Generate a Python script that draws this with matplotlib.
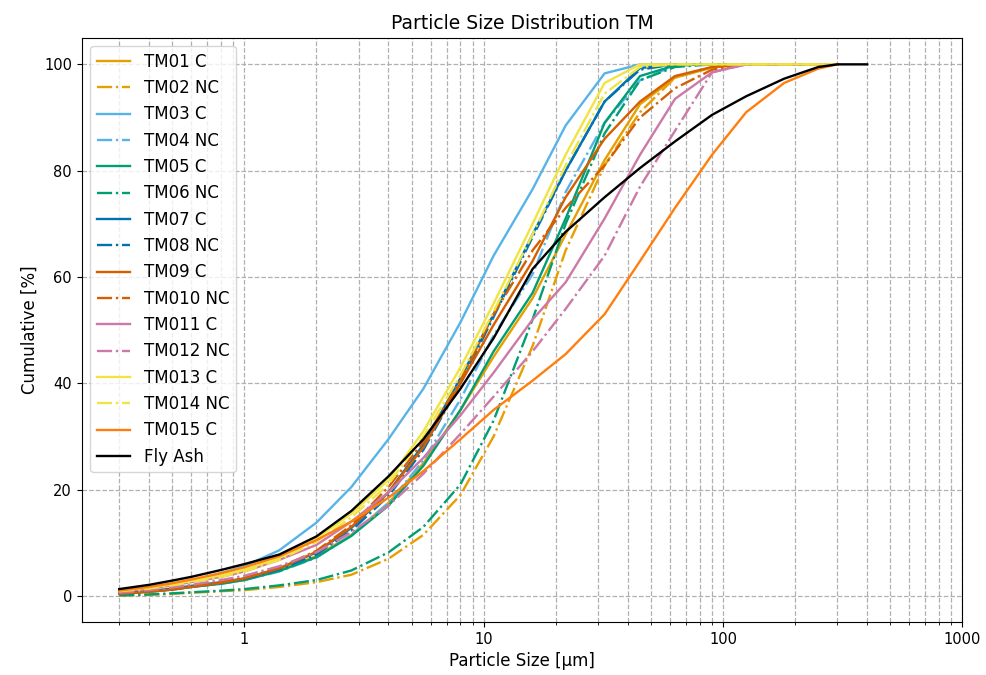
import matplotlib
matplotlib.use("Agg")
import matplotlib.pyplot as plt
from matplotlib.ticker import ScalarFormatter

sizes = [0.3, 0.4, 0.5, 0.6, 0.8, 1, 1.4, 2, 2.8, 4, 5.6, 8, 11, 16, 22, 32, 45, 63, 90, 125, 180, 250, 300]
fly_sizes = sizes + [400]

tm01 = [0.5, 0.9, 1.3, 1.7, 2.4, 3.0, 4.8, 7.5, 11.5, 17.5, 25, 35, 45, 56, 68, 82, 92.5, 97.5, 99.4, 100, 100, 100, 100]
tm02 = [0.1, 0.2, 0.4, 0.6, 0.9, 1.1, 1.7, 2.6, 4.0, 7.0, 11.5, 19, 30, 47, 65, 81, 91, 97.5, 99.5, 100, 100, 100, 100]
tm03 = [0.8, 1.5, 2.2, 2.9, 4.3, 5.6, 8.6, 13.8, 20.5, 29.5, 39, 51.5, 64, 76.5, 88.5, 98.3, 100, 100, 100, 100, 100, 100, 100]
tm04 = [0.4, 0.8, 1.2, 1.7, 2.3, 3.0, 4.6, 7.2, 11.5, 17.5, 25.5, 37, 49, 60.5, 76, 89, 97, 99.8, 100, 100, 100, 100, 100]
tm05 = [0.4, 0.8, 1.2, 1.7, 2.3, 3.0, 4.7, 7.3, 11.3, 17, 24.5, 35, 46, 57, 71, 89, 97.8, 99.8, 100, 100, 100, 100, 100]
tm06 = [0.1, 0.3, 0.5, 0.7, 1.0, 1.3, 2.0, 3.0, 4.8, 8.2, 13, 21, 33, 52, 70, 87, 97, 99.5, 100, 100, 100, 100, 100]
tm07 = [0.5, 0.9, 1.4, 1.9, 2.6, 3.3, 5.2, 8.2, 12.8, 19.5, 28.5, 41, 53, 68, 80, 93, 99.3, 100, 100, 100, 100, 100, 100]
tm08 = [0.5, 0.9, 1.3, 1.8, 2.5, 3.2, 5.0, 7.8, 12.3, 18.8, 27.5, 40, 52.5, 67.5, 80, 93, 99, 100, 100, 100, 100, 100, 100]
tm09 = [0.4, 0.8, 1.2, 1.7, 2.5, 3.3, 5.2, 8.3, 13, 19.5, 28, 40, 51, 63, 75, 86, 93, 97.8, 99.5, 100, 100, 100, 100]
tm010 = [0.5, 0.9, 1.3, 1.8, 2.6, 3.4, 5.3, 8.5, 13.3, 20.5, 29, 40.5, 53, 65, 73, 81, 90, 95.5, 99, 100, 100, 100, 100]
tm011 = [0.8, 1.4, 2.0, 2.6, 3.6, 4.6, 6.8, 9.6, 14, 19.5, 26, 34, 42, 52, 59, 71, 83, 93.5, 98.5, 100, 100, 100, 100]
tm012 = [0.6, 1.1, 1.6, 2.1, 3.0, 3.8, 5.6, 8.2, 12, 17, 23, 30.5, 37.5, 46, 54, 64, 77, 87.5, 98.5, 100, 100, 100, 100]
tm013 = [1.0, 1.6, 2.2, 2.8, 3.9, 4.9, 7.2, 10.8, 15.5, 21.8, 31, 43, 55, 70, 83, 96.5, 100, 100, 100, 100, 100, 100, 100]
tm014 = [0.9, 1.4, 2.0, 2.6, 3.6, 4.6, 6.8, 10.2, 14.8, 21, 30, 41.5, 53.5, 68, 81, 94.5, 99.5, 100, 100, 100, 100, 100, 100]
tm015 = [1.0, 1.7, 2.4, 3.1, 4.3, 5.4, 7.5, 10.5, 14, 18.5, 23.5, 29.5, 35, 40.5, 45.5, 53, 63, 73, 83, 91, 96.5, 99.2, 100]
fly_ash = [1.3, 2.1, 2.9, 3.6, 4.9, 6.0, 7.8, 11.2, 16, 22.5, 29.5, 39, 48.5, 61.5, 68.5, 75, 80.5, 85.5, 90.5, 94, 97.3, 99.5, 100, 100]

labels = ["TM01 C", "TM02 NC", "TM03 C", "TM04 NC", "TM05 C", "TM06 NC", "TM07 C", "TM08 NC",
          "TM09 C", "TM010 NC", "TM011 C", "TM012 NC", "TM013 C", "TM014 NC", "TM015 C"]
series = [tm01, tm02, tm03, tm04, tm05, tm06, tm07, tm08, tm09, tm010, tm011, tm012, tm013, tm014, tm015]
colors = ["#E69F00", "#E69F00", "#56B4E9", "#56B4E9", "#009E73", "#009E73", "#0072B2", "#0072B2",
          "#D55E00", "#D55E00", "#CC79A7", "#CC79A7", "#F0E442", "#F0E442", "#FF7F0E"]
styles = ["-", "-.", "-", "-.", "-", "-.", "-", "-.", "-", "-.", "-", "-.", "-", "-.", "-"]

fig = plt.figure(figsize=(9.86, 6.75), dpi=100)
ax = fig.add_axes([0.083, 0.0785, 0.893, 0.8655])

for lab, vals, c, ls in zip(labels, series, colors, styles):
    ax.plot(sizes, vals, color=c, linestyle=ls, linewidth=1.7, label=lab)
ax.plot(fly_sizes, fly_ash, color="black", linewidth=1.7, label="Fly Ash")

ax.set_xscale("log")
ax.set_xlim(right=1000)
ax.xaxis.set_major_formatter(ScalarFormatter())
ax.tick_params(labelsize=10.5)
ax.grid(True, which="both", linestyle="--", color="#b0b0b0", linewidth=0.9)
ax.set_xlabel("Particle Size [µm]", fontsize=12)
ax.set_ylabel("Cumulative [%]", fontsize=12)
ax.set_title("Particle Size Distribution TM", fontsize=13.5)
ax.legend(loc="upper left", fontsize=12)

fig.savefig("out.png", dpi=100)
